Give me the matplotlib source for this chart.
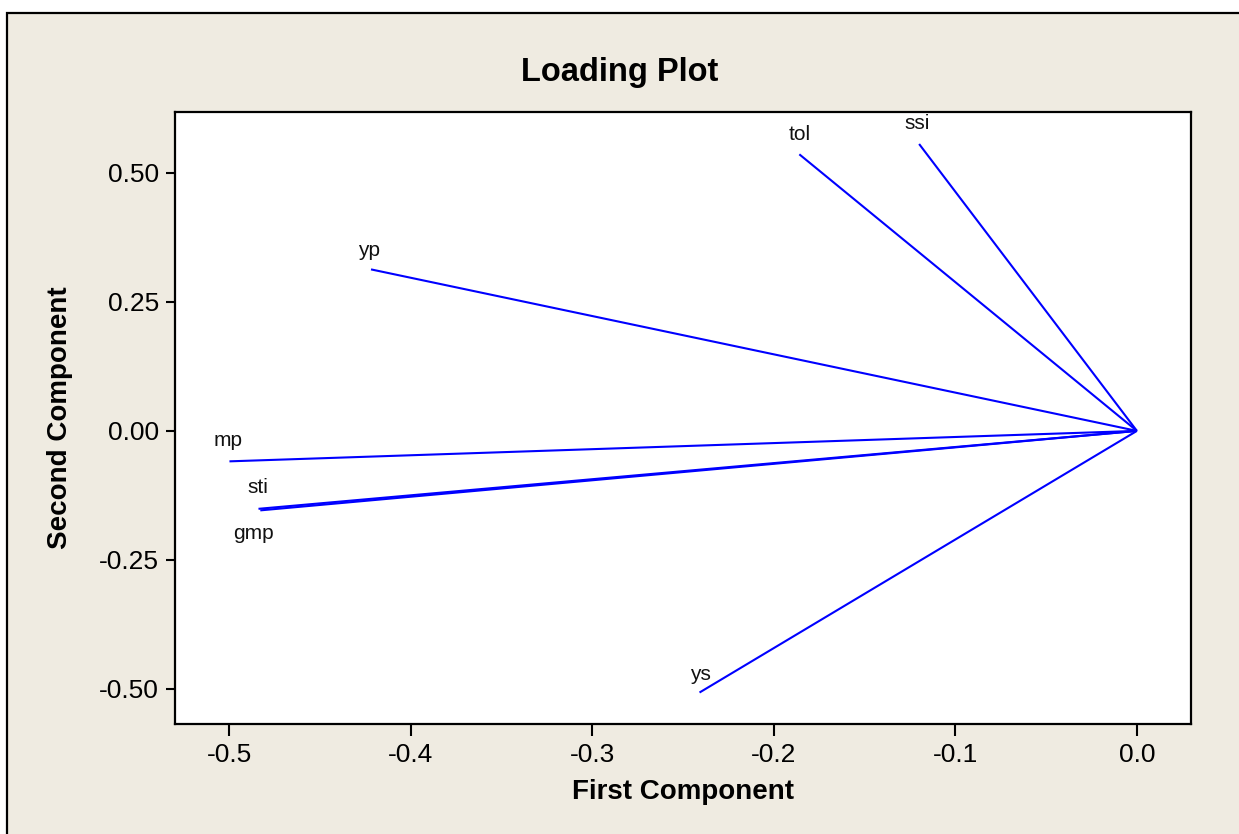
import matplotlib
matplotlib.use('Agg')
import matplotlib.pyplot as plt
from matplotlib.patches import Rectangle

# loadings
variables = ['tol', 'ssi', 'yp', 'mp', 'sti', 'gmp', 'ys']
first_comp = [-0.186, -0.120, -0.422, -0.500, -0.484, -0.483, -0.241]
second_comp = [0.536, 0.556, 0.313, -0.059, -0.151, -0.154, -0.507]

x_ticks = [-0.5, -0.4, -0.3, -0.2, -0.1, 0.0]
y_ticks = [-0.50, -0.25, 0.00, 0.25, 0.50]

# label offsets in pixels (dx, dy)
label_offset = {'tol': (0, 20), 'ssi': (-2, 20), 'yp': (-2, 19), 'mp': (-1, 21),
                'sti': (-1, 21), 'gmp': (-7, -23), 'ys': (1, 18)}

plt.rcParams['axes.unicode_minus'] = False
plt.rcParams['font.family'] = ['Liberation Sans', 'DejaVu Sans']

bg = '#EFEBE1'
W, H = 1239, 834
fig = plt.figure(figsize=(W / 100, H / 100), dpi=100, facecolor='white')

# beige panel with black frame (only top/left visible in the crop)
fig.patches.append(Rectangle((6.7 / W, -0.2), 1.2, 0.2 + (H - 12.7) / H,
                             transform=fig.transFigure, facecolor=bg,
                             edgecolor='black', linewidth=1.6, zorder=-5))

ax = fig.add_axes([175 / W, (H - 724) / H, 1016 / W, 612 / H])
ax.set_zorder(2)
ax.set_facecolor('white')

for name, x, y in zip(variables, first_comp, second_comp):
    ax.plot([0, x], [0, y], color='#0000FF', linewidth=1.5, solid_capstyle='butt')
    dx, dy = label_offset[name]
    ax.annotate(name, (x, y), xytext=(dx, dy), textcoords='offset pixels',
                ha='center', va='center', fontsize=15, color='#111111')

ax.set_xlim(-0.530, 0.0298)
ax.set_ylim(-0.568, 0.618)
ax.set_xticks(x_ticks)
ax.set_xticklabels(['%.1f' % v for v in x_ticks])
ax.set_yticks(y_ticks)
ax.set_yticklabels(['%.2f' % v for v in y_ticks])

for sp in ax.spines.values():
    sp.set_linewidth(1.6)
ax.tick_params(axis='x', direction='out', length=8.6, width=1.5, labelsize=19, pad=5)
ax.tick_params(axis='y', direction='out', length=6.5, width=1.5, labelsize=19, pad=5)

ax.set_xlabel('First Component', fontsize=20, fontweight='bold', va='center')
ax.xaxis.set_label_coords(0.5, -0.111)
ax.set_ylabel('Second Component', fontsize=20, fontweight='bold', va='center')
ax.yaxis.set_label_coords(-0.113, 0.5)

fig.text(0.5, (H - 73) / H, 'Loading Plot', ha='center', va='center',
         fontsize=23.5, fontweight='bold')

fig.savefig('out.png', dpi=100, facecolor=fig.get_facecolor())
